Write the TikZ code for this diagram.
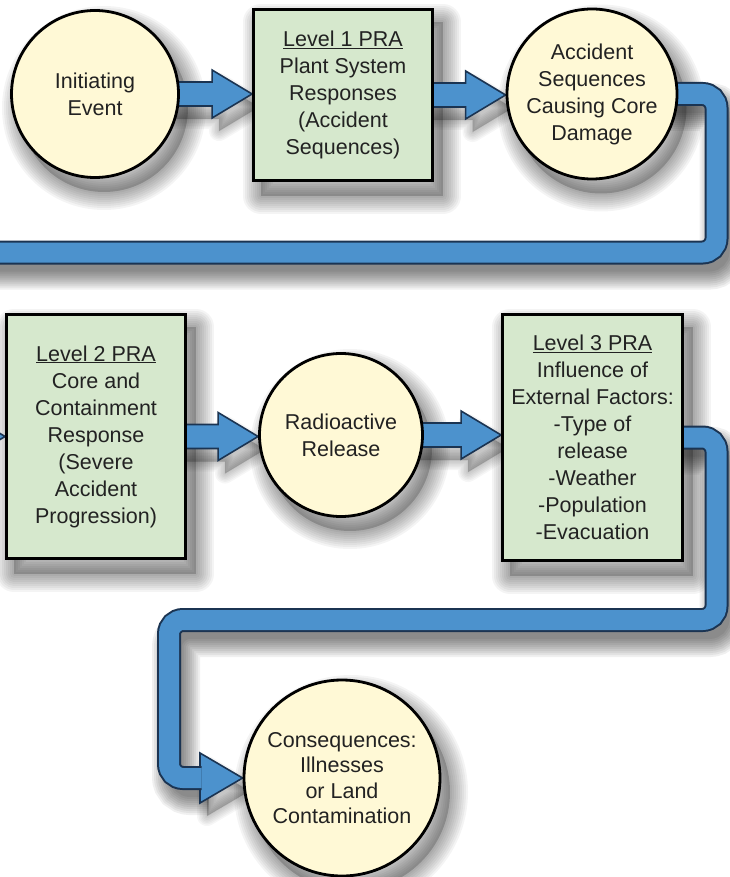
\documentclass[tikz,border=0pt]{standalone}
\usepackage{fontspec}
\setmainfont{Liberation Sans}
\usetikzlibrary{calc}

\pgfdeclarelayer{flow}
\pgfsetlayers{flow,main}

\definecolor{arrowblue}{RGB}{76,146,205}
\definecolor{arrowedge}{RGB}{27,52,82}
\definecolor{boxgreen}{RGB}{214,232,205}
\definecolor{discyellow}{RGB}{255,249,214}
\definecolor{inktext}{RGB}{34,34,34}

% straight block arrow from the centre of one node to the border of the next
\newcommand\fatarrow[3]{%
  \path[#3] let \p1=(#1), \p2=(#2) in
    (\x1,\y1+12pt) -- (\x2-40pt,\y1+12pt) -- (\x2-40pt,\y1+24pt) -- (\x2,\y1)
    -- (\x2-40pt,\y1-24pt) -- (\x2-40pt,\y1-12pt) -- (\x1,\y1-12pt) -- cycle;}

% head of a bent band arrow
\newcommand\bandhead[3]{%
  \path[#3] let \p1=(#1), \p2=(#2) in
    (\x1,\y1+25pt) -- (\x2,\y1) -- (\x1,\y1-25pt) -- cycle;}

\tikzset{
  every node/.style={font=\fontsize{21.5}{27}\selectfont, text=inktext, align=center},
  stage/.style={rectangle, draw=black, line width=2.8pt, fill=boxgreen, inner sep=0pt},
  event/.style={circle, draw=black, line width=2.8pt, fill=discyellow, inner sep=0pt},
  arrowbody/.style={fill=arrowblue, draw=arrowedge, line width=1.6pt, line join=miter},
  bandbody/.style={draw=arrowblue, line width=20pt, rounded corners=14pt,
                   preaction={draw=arrowedge, line width=24pt}},
  nodecore/.style={fill=black, fill opacity=.2},
  nodehalo/.style={draw=black, draw opacity=.045, line join=round},
  shadowline/.style={black, draw opacity=.06, rounded corners=14pt},
  arrowshadow/.style={draw=black, fill=black, draw opacity=.035, fill opacity=.035, line join=round},
}

\begin{document}
\begin{tikzpicture}[x=1pt,y=-1pt]
\useasboundingbox (0,0) rectangle (729,877);

% ---- stages and events ----
\node[event, minimum size=167pt] (ie) at (95,94) {Initiating\\Event};
\node[stage, minimum width=179pt, minimum height=171pt] (l1) at (343,95)
  {\underline{Level 1 PRA}\\Plant System\\Responses\\(Accident\\Sequences)};
\node[event, minimum size=170pt] (acs) at (592,94)
  {Accident\\Sequences\\Causing Core\\Damage};
\node[stage, minimum width=179pt, minimum height=244pt] (l2) at (96,436.5)
  {\underline{Level 2 PRA}\\Core and\\Containment\\Response\\(Severe\\Accident\\Progression)};
\node[event, minimum size=163pt] (rr) at (341,435) {Radioactive\\Release};
\node[stage, minimum width=180pt, minimum height=246pt] (l3) at (592.5,437.5)
  {\underline{Level 3 PRA}\\Influence of\\External Factors:\\-Type of\\release\\-Weather\\-Population\\-Evacuation};
\node[event, minimum size=196pt, font=\fontsize{21.5}{25.5}\selectfont] (cq) at (342,778)
  {Consequences:\\Illnesses\\or Land\\Contamination};

% ---- bend points of the two band arrows ----
\coordinate (turnA) at (716.5,252.5);
\coordinate (offL)  at (-12,252.5);
\coordinate (offS)  at (-80,436.5);
\coordinate (turnB) at (716.5,620);
\coordinate (turnC) at (169,778);
\coordinate (headB) at (200,778);
\coordinate (shaftEnd) at (201.5,778);

\begin{pgfonlayer}{flow}
  % soft drop shadows of the stages and events
  \begin{scope}[transform canvas={shift={(9pt,-14pt)}}]
    \fill[nodecore] (l1.north west) rectangle (l1.south east);
    \fill[nodecore] (l2.north west) rectangle (l2.south east);
    \fill[nodecore] (l3.north west) rectangle (l3.south east);
    \fill[nodecore] (ie.center) circle[radius=84pt];
    \fill[nodecore] (acs.center) circle[radius=85.5pt];
    \fill[nodecore] (rr.center) circle[radius=82pt];
    \fill[nodecore] (cq.center) circle[radius=99pt];
    \foreach \w in {4,8,...,36}{
      \draw[nodehalo, line width=\w pt] (l1.north west) rectangle (l1.south east);
      \draw[nodehalo, line width=\w pt] (l2.north west) rectangle (l2.south east);
      \draw[nodehalo, line width=\w pt] (l3.north west) rectangle (l3.south east);
      \draw[nodehalo, line width=\w pt] (ie.center) circle[radius=84pt];
      \draw[nodehalo, line width=\w pt] (acs.center) circle[radius=85.5pt];
      \draw[nodehalo, line width=\w pt] (rr.center) circle[radius=82pt];
      \draw[nodehalo, line width=\w pt] (cq.center) circle[radius=99pt];
    }
  \end{scope}

  % soft shadows of the block arrows
  \begin{scope}[transform canvas={shift={(7pt,-13pt)}}]
    \foreach \w in {12,16,...,48}{
      \draw[shadowline, line width=\w pt] (acs.center) -| (turnA) -- (offL);
      \draw[shadowline, line width=\w pt] (l3.center) -| (turnB) -| (turnC) -- (shaftEnd);
    }
    \foreach \w in {2,5,...,20}{
      \fatarrow{ie.center}{l1.west}{arrowshadow, line width=\w pt}
      \fatarrow{l1.center}{acs.west}{arrowshadow, line width=\w pt}
      \fatarrow{l2.center}{rr.west}{arrowshadow, line width=\w pt}
      \fatarrow{rr.center}{l3.west}{arrowshadow, line width=\w pt}
      \bandhead{headB}{cq.west}{arrowshadow, line width=\w pt}
    }
  \end{scope}

  % band from the core damage sequences down and off to the left
  \draw[bandbody] (acs.center) -| (turnA) -- (offL);
  % tip of that band arriving at the Level 2 stage
  \fatarrow{offS}{l2.west}{arrowbody}
  % band from Level 3 round to the consequences
  \bandhead{headB}{cq.west}{arrowbody}
  \draw[bandbody] (l3.center) -| (turnB) -| (turnC) -- (shaftEnd);

  \fatarrow{ie.center}{l1.west}{arrowbody}
  \fatarrow{l1.center}{acs.west}{arrowbody}
  \fatarrow{l2.center}{rr.west}{arrowbody}
  \fatarrow{rr.center}{l3.west}{arrowbody}
\end{pgfonlayer}
\end{tikzpicture}
\end{document}
